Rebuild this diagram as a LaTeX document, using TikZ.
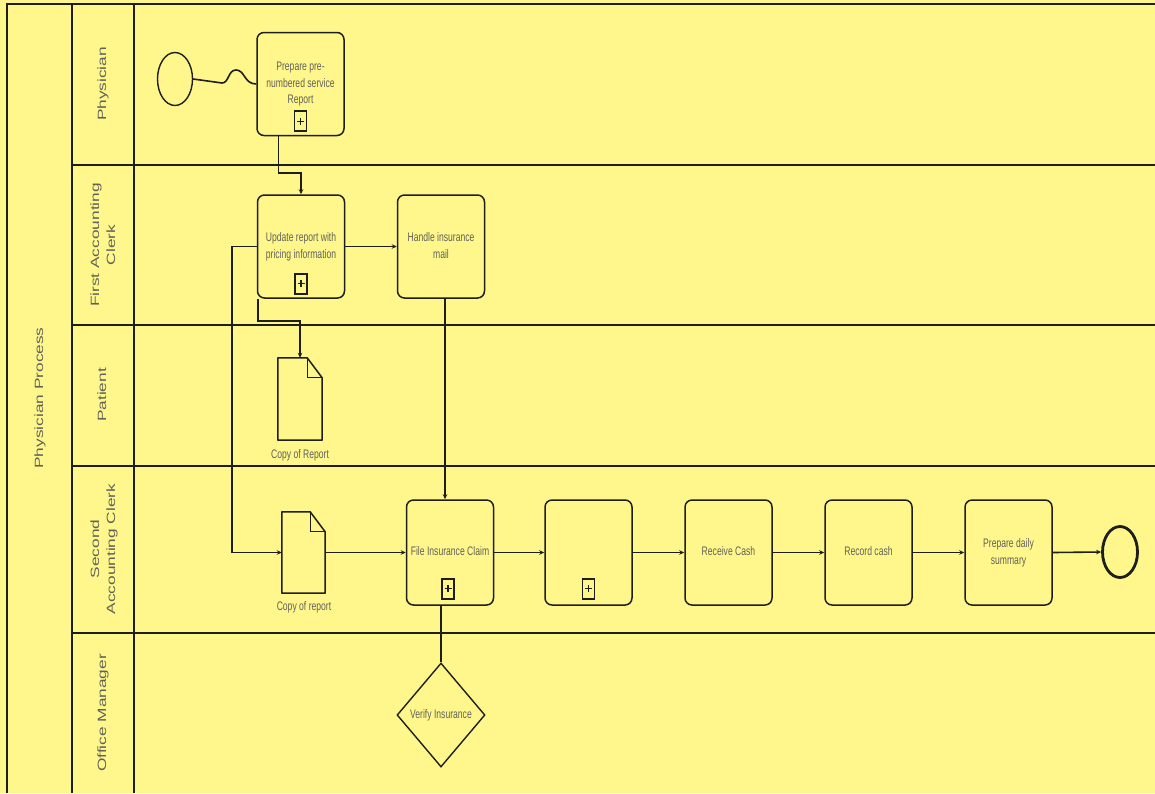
\documentclass[tikz,border=0pt]{standalone}
\usepackage{fontspec}
\setmainfont{Liberation Sans}
\usetikzlibrary{arrows.meta,shapes.geometric,calc}
\definecolor{bg}{HTML}{FFF68C}
\definecolor{ln}{HTML}{1E1E1A}
\definecolor{tx}{HTML}{62625A}
\newcommand{\vst}[1]{\scalebox{1}[1.44]{\begin{tabular}{@{}c@{}}#1\end{tabular}}}
\newcommand{\hst}[1]{\scalebox{1.44}[1]{\begin{tabular}{@{}c@{}}#1\end{tabular}}}
\begin{document}
\begin{tikzpicture}[x=1pt,y=-1pt,
  task/.style={draw=ln,line width=1.5pt,rounded corners=7pt,minimum width=87pt,minimum height=103pt,inner sep=0pt,text=tx,font=\fontsize{8.6}{11.5}\selectfont},
  lbl/.style={text=tx,font=\fontsize{8.6}{11.5}\selectfont,inner sep=0pt},
  lane/.style={text=tx,font=\fontsize{12}{16}\selectfont,rotate=90,inner sep=0pt},
  conn/.style={draw=ln,line width=1.6pt},
  arr/.style={conn,-{Stealth[length=5pt,width=4.5pt]}},
  docbox/.style={minimum width=44pt,minimum height=82pt,inner sep=0pt},
  marker/.style={draw=ln,line width=1.6pt,minimum width=12pt,minimum height=20pt,inner sep=0pt,
    path picture={\draw[ln,line width=1.1pt] ([xshift=-3.5pt]path picture bounding box.center) -- ([xshift=3.5pt]path picture bounding box.center)
      ([yshift=-3.5pt]path picture bounding box.center) -- ([yshift=3.5pt]path picture bounding box.center);}},
]
\useasboundingbox (0,0) rectangle (1155,793);
\fill[bg] (0,0) rectangle (1155,793);

% frame and lanes
\draw[conn] (7,793) -- (7,4) -- (1155,4);
\draw[conn] (72,4) -- (72,793);
\draw[conn] (134,4) -- (134,793);
\foreach \yy in {165,325,466,633} \draw[conn] (72,\yy) -- (1155,\yy);

% labels
\node[lane] (pool) at (40,398) {\hst{Physician Process}};
\node[lane] (l1) at (103,84) {\hst{Physician}};
\node[lane] (l2) at (104,245) {\hst{First Accounting\\Clerk}};
\node[lane] (l3) at (103,395) {\hst{Patient}};
\node[lane] (l4) at (104,549) {\hst{Second\\Accounting Clerk}};
\node[lane] (l5) at (103,713) {\hst{Office Manager}};

% events
\node[ellipse,draw=ln,line width=1.4pt,minimum width=35pt,minimum height=53pt,inner sep=0pt] (start) at (175,79) {};
\node[ellipse,draw=ln,line width=2.8pt,minimum width=35pt,minimum height=51pt,inner sep=0pt] (end) at (1120,552) {};

% tasks
\node[task] (t1) at (300.5,84) {\vst{Prepare pre-\\numbered service\\Report}};
\node[task] (t2) at (301,246.5) {\vst{Update report with\\pricing information}};
\node[task] (t3) at (441,246.5) {\vst{Handle insurance\\mail}};
\node[task,minimum height=105pt] (t4) at (450,552.5) {\vst{File Insurance Claim}};
\node[task,minimum height=105pt] (t5) at (588.5,552.5) {};
\node[task,minimum height=105pt] (t6) at (728.5,552.5) {\vst{Receive Cash}};
\node[task,minimum height=105pt] (t7) at (868.5,552.5) {\vst{Record cash}};
\node[task,minimum height=105pt] (t8) at (1008.5,552.5) {\vst{Prepare daily\\summary}};

% subprocess markers
\node[marker] (m1) at ($(t1.south)+(0,-15)$) {};
\node[marker] (m2) at ($(t2.south)+(0,-15)$) {};
\node[marker] (m4) at ($(t4.south)+(-2,-17)$) {};
\node[marker] (m5) at ($(t5.south)+(0,-17)$) {};

% gateway
\node[diamond,draw=ln,line width=1.4pt,minimum width=88pt,minimum height=104pt,inner sep=0pt,text=tx,font=\fontsize{8.6}{11.5}\selectfont] (dia) at (441,715) {\vst{Verify Insurance}};

% documents
\node[docbox] (doc1) at (300,399) {};
\node[docbox,minimum width=43pt,minimum height=81pt] (doc2) at (303.5,552.5) {};
\foreach \d in {doc1,doc2}{
  \draw[ln,line width=1.5pt,line join=round] (\d.north west) -- ($(\d.north east)+(-15,0)$) -- ($(\d.north east)+(0,20)$) -- (\d.south east) -- (\d.south west) -- cycle;
  \draw[ln,line width=1.2pt] ($(\d.north east)+(-15,0)$) -- ($(\d.north east)+(-15,20)$) -- ($(\d.north east)+(0,20)$);
}
\node[lbl] (c1) at (300,455) {\vst{Copy of Report}};
\node[lbl] (c2) at (304,607) {\vst{Copy of report}};

% connectors
\draw[conn] (start.east) -- (222,83) .. controls (229,83) and (228,70) .. (236,70) .. controls (245,70) and (244,84) .. (t1.west);
\draw[arr] ([xshift=-22pt]t1.south) -- ++(0,37) -| (t2.north);
\draw[arr] (t2.east) -- (t3.west);
\coordinate (xa) at (445,0);
\draw[arr] (t3.south -| xa) -- (t4.north -| xa);
\coordinate (xb) at (232,0);
\draw[arr] (t2.west) -- (t2.west -| xb) |- (doc2.west);
\draw[arr] ([xshift=1pt]t2.south west) -- ++(0,22) -| (doc1.north);
\draw[arr] (doc2.east) -- (t4.west);
\draw[arr] (t4.east) -- (t5.west);
\draw[arr] (t5.east) -- (t6.west);
\draw[arr] (t6.east) -- (t7.west);
\draw[arr] (t7.east) -- (t8.west);
\draw[arr] (t8.east) -- (end.west);
\draw[conn] (dia.north) -- (dia.north |- t4.south);
\end{tikzpicture}
\end{document}
